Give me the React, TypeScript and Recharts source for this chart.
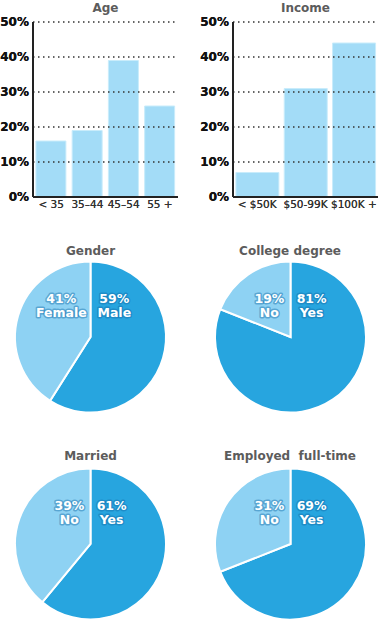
import { BarChart, Bar, XAxis, YAxis, CartesianGrid, PieChart, Pie, Cell } from "recharts";

const ageCategories = ["< 35", "35–44", "45–54", "55 +"];
const ageValues = [16, 19, 39, 26];
const incomeCategories = ["< $50K", "$50-99K", "$100K +"];
const incomeValues = [7, 31, 44];
const percentTicks = [0, 10, 20, 30, 40, 50];

const genderNames = ["Male", "Female"];
const genderValues = [59, 41];
const collegeNames = ["Yes", "No"];
const collegeValues = [81, 19];
const marriedNames = ["Yes", "No"];
const marriedValues = [61, 39];
const employedNames = ["Yes", "No"];
const employedValues = [69, 31];

const FONT = "'DejaVu Sans', Verdana, sans-serif";
const BAR_COLOR = "#A3DCF7";
const DARK = "#27A5DF";
const LIGHT = "#8ED2F3";
const TITLE_COLOR = "#5c5c5c";

function Title({ text, x, y }: { text: string; x: number; y: number }) {
  return (
    <div style={{
      position: "absolute", left: x - 100, top: y, width: 200, textAlign: "center",
      fontSize: 12, lineHeight: "14px", fontWeight: "bold", color: TITLE_COLOR, whiteSpace: "pre",
    }}>{text}</div>
  );
}

function axes(yWidth: number) {
  return [
    <XAxis key="x" dataKey="name" height={18} tickSize={0} tickMargin={4} interval={0}
      axisLine={{ stroke: "#222", strokeWidth: 2 }}
      tick={{ fontSize: 10.5, fill: "#333", fontFamily: FONT }} />,
    <YAxis key="y" width={yWidth} domain={[0, 50]} ticks={percentTicks} tickSize={0} tickMargin={4}
      tickFormatter={(v: number) => `${v}%`}
      axisLine={{ stroke: "#222", strokeWidth: 2 }}
      tick={{ fontSize: 12, fill: "#111", fontWeight: "bold", fontFamily: FONT }} />,
  ];
}

function PercentBars({ title, categories, values, left, yWidth, right, gap }: {
  title: string; categories: string[]; values: number[]; left: number; yWidth: number; right: number; gap: string;
}) {
  const data = categories.map((name, i) => ({ name, value: values[i] }));
  const margin = { top: 22, right, bottom: 0, left: 0 };
  return (
    <>
      <Title text={title} x={left + yWidth + (195 - yWidth - right) / 2} y={1} />
      <div style={{ position: "absolute", left, top: 0 }}>
        <BarChart width={195} height={215} data={data} margin={margin} barCategoryGap={gap}>
          {axes(yWidth)}
          <Bar dataKey="value" fill={BAR_COLOR} stroke="#c9ecfb" strokeWidth={1} isAnimationActive={false} />
        </BarChart>
      </div>
      <div style={{ position: "absolute", left, top: 0 }}>
        <BarChart width={195} height={215} data={data} margin={margin} barCategoryGap={gap}>
          <CartesianGrid vertical={false} stroke="#333" strokeWidth={1.5} strokeDasharray="1.5 3.5" />
          {axes(yWidth)}
          <Bar dataKey="value" fill="none" stroke="none" isAnimationActive={false} />
        </BarChart>
      </div>
    </>
  );
}

function renderLabel(props: any) {
  const { cx, cy, index, name, value } = props;
  const maxLen = Math.max(String(name).length, `${value}%`.length);
  const off = 13 + 2.7 * maxLen;
  const x = index === 0 ? cx + off : cx - off;
  return (
    <text x={x} y={cy - 34} textAnchor="middle" fill="#fff" fontFamily={FONT} fontSize={12.5}
      fontWeight="bold" stroke="rgba(20,110,170,0.45)" strokeWidth={3} paintOrder="stroke"
      strokeLinejoin="round">
      <tspan x={x} dy={0}>{`${value}%`}</tspan>
      <tspan x={x} dy={13.5}>{name}</tspan>
    </text>
  );
}

function Donut({ title, names, values, left, top, titleTop }: {
  title: string; names: string[]; values: number[]; left: number; top: number; titleTop: number;
}) {
  const data = names.map((name, i) => ({ name, value: values[i] }));
  return (
    <>
      <Title text={title} x={left + 90.5} y={titleTop} />
      <div style={{ position: "absolute", left, top: top - 90 }}>
        <PieChart width={195} height={180} margin={{ top: 0, right: 0, bottom: 0, left: 0 }}>
          <Pie data={data} dataKey="value" nameKey="name" cx={90.5} cy={90} outerRadius={75.5}
            startAngle={90} endAngle={-270} stroke="#fff" strokeWidth={2}
            label={renderLabel} labelLine={false} isAnimationActive={false}>
            {data.map((_, i) => <Cell key={i} fill={i === 0 ? DARK : LIGHT} />)}
          </Pie>
        </PieChart>
      </div>
    </>
  );
}

export default function App() {
  return (
    <div style={{ position: "absolute", left: 0, top: 0, width: 390, height: 624, background: "#fff", fontFamily: FONT, overflow: "hidden" }}>
      <PercentBars title="Age" categories={ageCategories} values={ageValues} left={0} yWidth={33} right={17} gap="8%" />
      <PercentBars title="Income" categories={incomeCategories} values={incomeValues} left={195} yWidth={38} right={12} gap="6%" />
      <Donut title="Gender" names={genderNames} values={genderValues} left={0} top={337} titleTop={244} />
      <Donut title="College degree" names={collegeNames} values={collegeValues} left={199.5} top={337} titleTop={244} />
      <Donut title="Married" names={marriedNames} values={marriedValues} left={0} top={543.5} titleTop={449} />
      <Donut title="Employed  full-time" names={employedNames} values={employedValues} left={199.5} top={543.5} titleTop={449} />
    </div>
  );
}
